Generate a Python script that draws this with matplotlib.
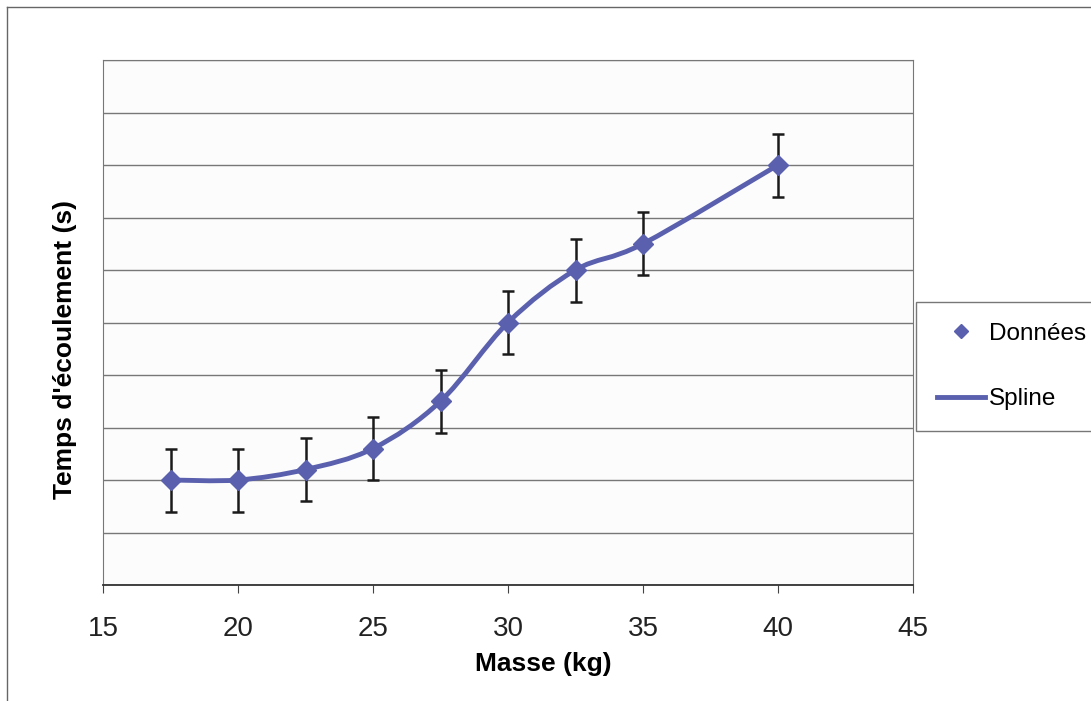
import matplotlib.pyplot as plt
import numpy as np
from matplotlib.path import Path
from matplotlib.patches import PathPatch
from matplotlib.lines import Line2D

plt.rcParams['font.family'] = ['Liberation Sans', 'DejaVu Sans']

masse = [17.5, 20, 22.5, 25, 27.5, 30, 32.5, 35, 40]
temps = [2.0, 2.0, 2.2, 2.6, 3.5, 5.0, 6.0, 6.5, 8.0]
erreur = [0.6, 0.6, 0.6, 0.6, 0.6, 0.6, 0.6, 0.6, 0.6]
xticks = [15, 20, 25, 30, 35, 40, 45]

col = '#5a60ad'

fig = plt.figure(figsize=(10.91, 7.01), dpi=100)
ax = fig.add_axes([103/1091, 1 - 585/701, 810/1091, 525/701])
ax.set_facecolor('#fcfcfc')

# smoothed line as bezier segments (Excel style smoothing)
x = np.array(masse)
y = np.array(temps)
verts = [(x[0], y[0])]
codes = [Path.MOVETO]
n = len(x)
for i in range(n - 1):
    p0 = np.array([x[max(i - 1, 0)], y[max(i - 1, 0)]])
    p1 = np.array([x[i], y[i]])
    p2 = np.array([x[i + 1], y[i + 1]])
    p3 = np.array([x[min(i + 2, n - 1)], y[min(i + 2, n - 1)]])
    c1 = p1 + (p2 - p0) / 6
    c2 = p2 - (p3 - p1) / 6
    verts += [tuple(c1), tuple(c2), tuple(p2)]
    codes += [Path.CURVE4] * 3
ax.add_patch(PathPatch(Path(verts, codes), fill=False, edgecolor=col, lw=3.5,
                       capstyle='round', joinstyle='round', zorder=3))

ax.errorbar(masse, temps, yerr=erreur, fmt='none', ecolor='#1a1a1a',
            elinewidth=1.8, capsize=4.5, capthick=1.8, zorder=4)
ax.plot(masse, temps, 'D', color=col, ms=10, zorder=5)

ax.set_xlim(15, 45)
ax.set_ylim(0, 10)
ax.set_xticks(xticks)
ax.set_yticks(np.arange(0, 11, 1))
ax.set_yticklabels([])
ax.grid(axis='y', color='#777777', lw=1)
ax.set_axisbelow(True)
ax.tick_params(axis='x', labelsize=20, length=6, color='#444444', pad=16,
               labelcolor='#222222')
ax.tick_params(axis='y', length=0)
for s in ['top', 'right']:
    ax.spines[s].set_color('#777777')
ax.spines['left'].set_color('#777777')
ax.spines['bottom'].set_color('#333333')
ax.spines['bottom'].set_linewidth(1.3)

ax.set_xlabel('Masse (kg)', fontsize=19, fontweight='bold')
ax.set_ylabel("Temps d'écoulement (s)", fontsize=19, fontweight='bold')
ax.xaxis.set_label_coords(0.543, -0.127)
ax.yaxis.set_label_coords(-0.032, 0.448)

handles = [Line2D([], [], ls='none', marker='D', color=col, ms=7),
           Line2D([], [], color=col, lw=3.5)]
leg = fig.legend(handles, ['Données', 'Spline'], loc='upper left',
                 bbox_to_anchor=(916/1091, 1 - 302/701), fontsize=17.5,
                 frameon=True, fancybox=False, handlelength=2.0,
                 handletextpad=0.15, labelspacing=1.8, borderpad=0.85,
                 borderaxespad=0)
leg.get_frame().set_edgecolor('#555555')
leg.get_frame().set_linewidth(1)

# outer chart border
fig.add_artist(Line2D([7/1091, 7/1091], [0, 1 - 7/701], color='#666666', lw=1))
fig.add_artist(Line2D([7/1091, 1], [1 - 7/701, 1 - 7/701], color='#666666', lw=1))

fig.savefig('out.png', dpi=100)
